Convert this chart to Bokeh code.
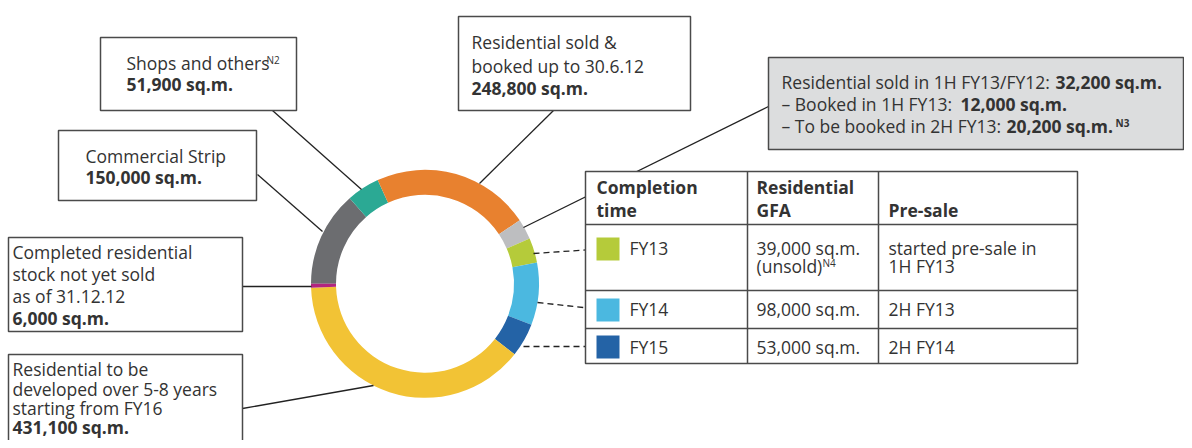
import numpy as np
from bokeh.plotting import figure
from bokeh.models import Range1d, ColumnDataSource
from bokeh.core.properties import value
from bokeh.embed import file_html
from bokeh.resources import INLINE

# ---------------- data ----------------
segments = ["Commercial Strip", "Shops and others", "Residential sold & booked up to 30.6.12",
            "Residential sold in 1H FY13", "FY13", "FY14", "FY15",
            "Residential to be developed over 5-8 years", "Completed residential stock not yet sold"]
values = [150000, 51900, 248800, 32200, 39000, 98000, 53000, 431100, 6000]
colors = ["#6C6D70", "#2BA994", "#E8812F", "#BDBEC0", "#B5CB3A", "#4BB8E0", "#2463A6", "#F2C335", "#B2247F"]

completion = ["FY13", "FY14", "FY15"]
gfa = ["39,000 sq.m.", "98,000 sq.m.", "53,000 sq.m."]
gfa_note = ["(unsold)", "", ""]
presale = [["started pre-sale in", "1H FY13"], ["2H FY13"], ["2H FY14"]]
table_colors = colors[4:7]

FONT = value("Open Sans")
FS = 17.5
TXT = "#333333"
BOX = "#4a4a4a"

W, H = 1184, 440


def Y(v):
    return H - v


p = figure(width=W, height=H, x_range=Range1d(0, W), y_range=Range1d(0, H),
           output_backend="svg", toolbar_location=None, min_border=0,
           x_axis_location=None, y_axis_location=None)
p.grid.visible = False
p.outline_line_color = None
p.background_fill_color = "white"
p.border_fill_color = "white"


def txt(x, y, s, bold=False, size=FS, align="left"):
    # y is the wanted baseline (pixels from top); the svg renderer sits ~0.4em lower
    yy = y - 0.4 * size
    p.text(x=[x], y=[Y(yy)], text=[s], text_font=FONT, text_font_size=f"{size}px",
           text_font_style="bold" if bold else "normal", text_baseline="alphabetic",
           text_align=align, text_color=TXT)


def box(l, t, r, b, fill="white"):
    p.quad(left=[l], right=[r], top=[Y(t)], bottom=[Y(b)], fill_color=fill,
           line_color=BOX, line_width=1.5)


def leader(x0, y0, x1, y1, dash="solid"):
    p.line(x=[x0, x1], y=[Y(y0), Y(y1)], line_color="#222222", line_width=1.3, line_dash=dash)


# ---------------- donut ----------------
vals = np.array(values, dtype=float)
cum = np.concatenate([[0], np.cumsum(vals)]) / vals.sum() * 2 * np.pi
src = ColumnDataSource(dict(start=np.pi - cum[:-1], end=np.pi - cum[1:], color=colors, name=segments))
CX, CY = 424.5, 283.3
p.annular_wedge(x=CX, y=Y(CY), inner_radius=89, outer_radius=114, start_angle="start",
                end_angle="end", direction="clock", fill_color="color", line_color=None, source=src)

# ---------------- leader lines ----------------
leader(272, 110, 361, 189)
leader(257, 174, 322, 231)
leader(553, 110, 479, 183)
leader(768, 106, 523, 227)
leader(242, 286, 311, 286)
leader(242, 408, 373, 385)
leader(533, 253, 592, 249, dash="6 4")
leader(537, 302, 592, 308, dash="6 4")
leader(523, 346, 592, 346, dash="6 4")

# ---------------- callout boxes ----------------
box(100, 37, 296, 110)
txt(126, 69, "Shops and others")
txt(266, 63, "N2", size=10)
txt(126, 90, "51,900 sq.m.", bold=True)

box(58, 130, 256, 200)
txt(85, 162, "Commercial Strip")
txt(85, 183, "150,000 sq.m.", bold=True)

box(458, 16, 690, 110)
txt(471, 48, "Residential sold &")
txt(471, 72, "booked up to 30.6.12")
txt(471, 94, "248,800 sq.m.", bold=True)

box(768, 57, 1183, 149, fill="#DCDDDE")
txt(781, 88, "Residential sold in 1H FY13/FY12:")
txt(1055, 88, "32,200 sq.m.", bold=True)
txt(781, 110, "\u2013 Booked in 1H FY13:")
txt(960, 110, "12,000 sq.m.", bold=True)
txt(781, 132, "\u2013 To be booked in 2H FY13:")
txt(1006, 132, "20,200 sq.m.", bold=True)
txt(1115, 126, "N3", size=10, bold=True)

box(8, 237, 242, 331)
txt(12, 258, "Completed residential")
txt(12, 280, "stock not yet sold")
txt(12, 302, "as of 31.12.12")
txt(12, 324, "6,000 sq.m.", bold=True)

box(8, 354, 242, 460)
txt(12, 375, "Residential to be")
txt(12, 395, "developed over 5-8 years")
txt(12, 414, "starting from FY16")
txt(12, 433, "431,100 sq.m.", bold=True)

# ---------------- table ----------------
TL, TR, TT, TB = 585, 1077, 171, 363
col_x = [747, 878]
row_y = [224, 290, 328]
p.quad(left=[TL], right=[TR], top=[Y(TT)], bottom=[Y(TB)], fill_color="white",
       line_color=BOX, line_width=1.5)
p.segment(x0=col_x, y0=[Y(TT)] * 2, x1=col_x, y1=[Y(TB)] * 2, line_color=BOX, line_width=1.5)
p.segment(x0=[TL] * 3, y0=[Y(v) for v in row_y], x1=[TR] * 3, y1=[Y(v) for v in row_y],
          line_color=BOX, line_width=1.5)

txt(596, 193, "Completion", bold=True)
txt(596, 216, "time", bold=True)
txt(756, 193, "Residential", bold=True)
txt(756, 216, "GFA", bold=True)
txt(888, 216, "Pre-sale", bold=True)

row_base = [254, 315, 353]
sq_top = [237, 298, 335]
for i in range(3):
    p.quad(left=[596], right=[619], top=[Y(sq_top[i])], bottom=[Y(sq_top[i] + 23)],
           fill_color=table_colors[i], line_color=None)
    txt(629, row_base[i], completion[i])
    txt(756, row_base[i], gfa[i])
    if gfa_note[i]:
        txt(756, row_base[i] + 18, gfa_note[i])
        txt(822, row_base[i] + 12, "N4", size=10)
    for j, line in enumerate(presale[i]):
        txt(888, row_base[i] + 18 * j, line)

open("out.html", "w").write(file_html(p, INLINE))
